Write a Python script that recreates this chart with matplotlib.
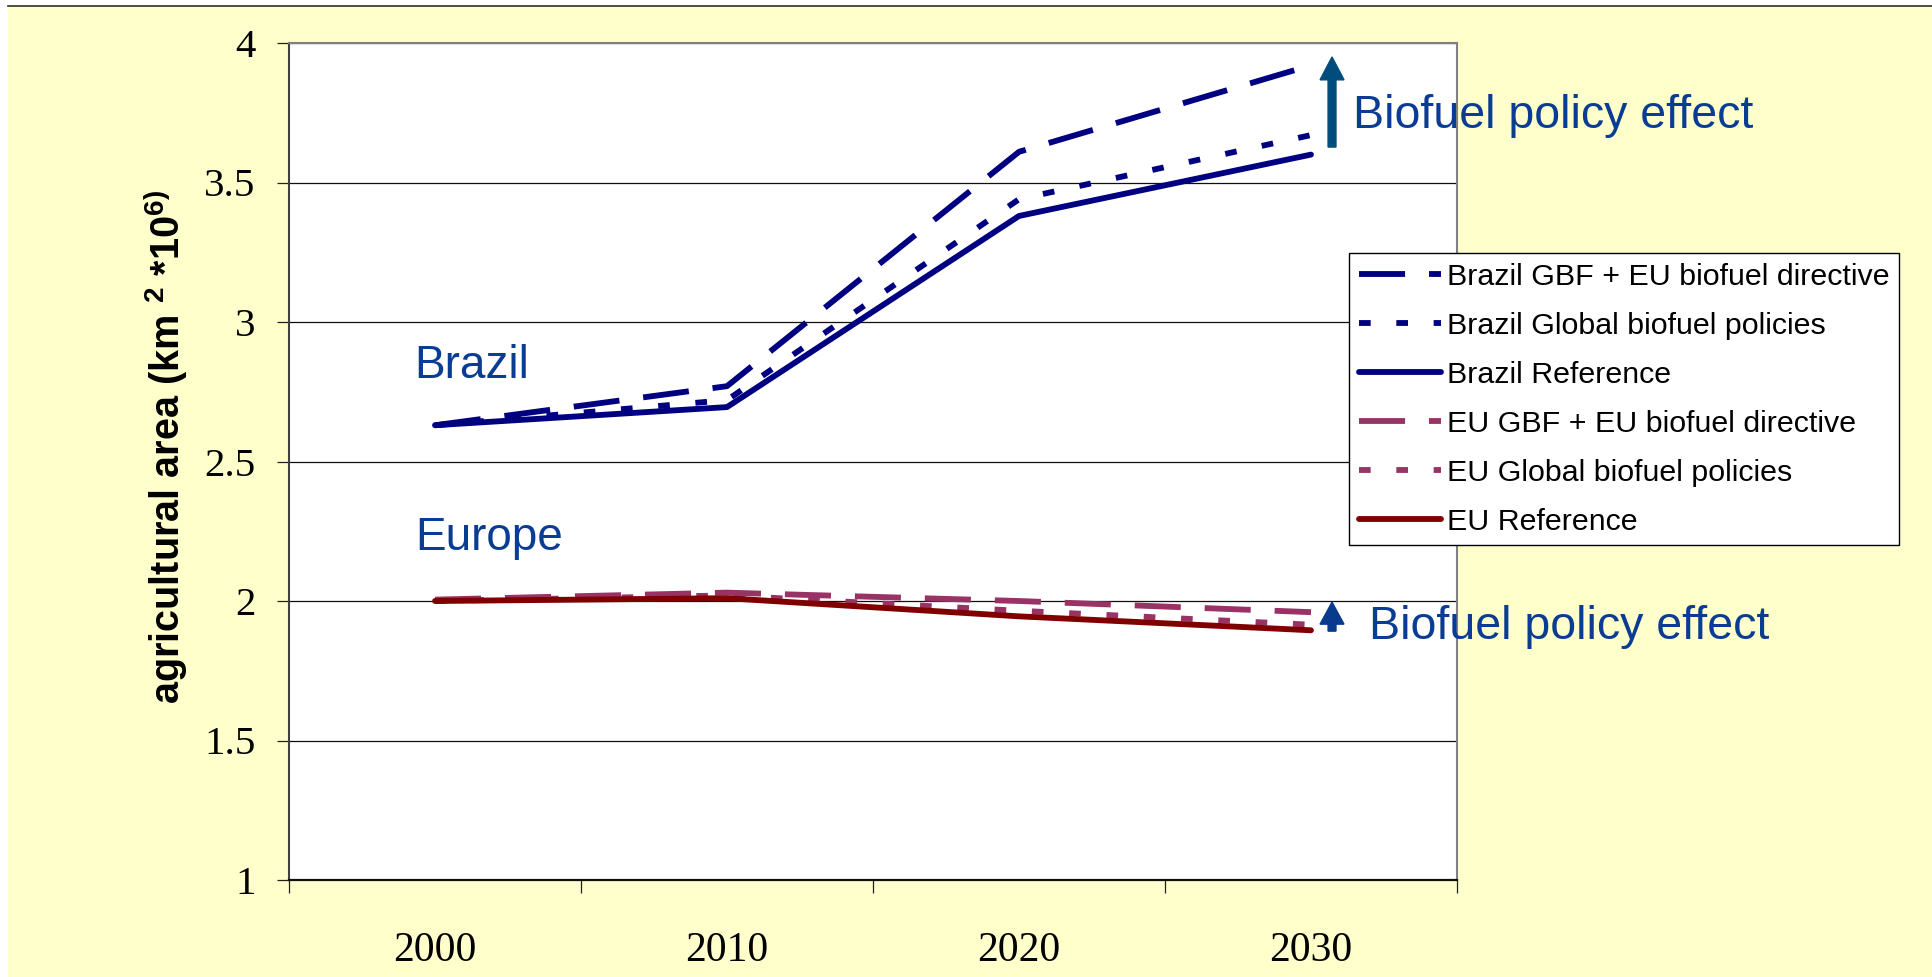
import matplotlib
matplotlib.use("Agg")
import matplotlib.pyplot as plt
from matplotlib.patches import Rectangle, FancyArrow
from matplotlib.lines import Line2D

# ---- data -------------------------------------------------------------
years = ["2000", "2010", "2020", "2030"]

brazil_gbf = [2.63, 2.77, 3.61, 3.92]
brazil_global = [2.63, 2.72, 3.44, 3.67]
brazil_ref = [2.63, 2.695, 3.38, 3.60]

eu_gbf = [2.005, 2.03, 2.00, 1.96]
eu_global = [2.00, 2.02, 1.965, 1.915]
eu_ref = [2.00, 2.01, 1.945, 1.895]

series_labels = [
    "Brazil GBF + EU biofuel directive",
    "Brazil Global biofuel policies",
    "Brazil Reference",
    "EU GBF + EU biofuel directive",
    "EU Global biofuel policies",
    "EU Reference",
]

y_ticks = [1, 1.5, 2, 2.5, 3, 3.5, 4]
y_tick_labels = ["1", "1.5", "2", "2.5", "3", "3.5", "4"]

# ---- styling ----------------------------------------------------------
plt.rcParams["font.family"] = ["Liberation Sans", "DejaVu Sans"]
plt.rcParams["mathtext.fontset"] = "custom"
plt.rcParams["mathtext.rm"] = "Liberation Sans:bold"
plt.rcParams["mathtext.default"] = "rm"

NAVY = "#000080"
PLUM = "#993366"
MAROON = "#800000"
LABEL_BLUE = "#0B3C93"
W, H = 1932, 977

fig = plt.figure(figsize=(W / 100, H / 100), dpi=100, facecolor="white")

# slide-style yellow panel with a rule along its top
fig.patches.append(Rectangle((8 / W, 0), 1 - 8 / W, 1 - 6 / H,
                             transform=fig.transFigure, facecolor="#FFFFCC",
                             edgecolor="none", zorder=-10))
fig.add_artist(Line2D([8 / W, 1], [1 - 6 / H, 1 - 6 / H],
                      transform=fig.transFigure, color="#303030", lw=1.2,
                      zorder=-5))

left, right, top, bottom = 289, 1457, 43, 880
ax = fig.add_axes([left / W, 1 - bottom / H, (right - left) / W, (bottom - top) / H])
ax.set_zorder(1)
ax.set_facecolor("white")

x = list(range(len(years)))
lw = 4.2
dash_long = (0, (7.9, 4.1))
dash_short = (0, (2.0, 4.4))

styles = [
    (brazil_gbf, NAVY, dash_long),
    (brazil_global, NAVY, dash_short),
    (brazil_ref, NAVY, "-"),
    (eu_gbf, PLUM, dash_long),
    (eu_global, PLUM, dash_short),
    (eu_ref, MAROON, "-"),
]
for (vals, col, ls), lab in zip(styles, series_labels):
    ax.plot(x, vals, color=col, lw=lw, linestyle=ls, label=lab,
            dash_capstyle="butt", solid_capstyle="round", zorder=3)

ax.set_xlim(-0.5, 3.5)
ax.set_ylim(1, 4)

# y axis
ax.set_yticks(y_ticks, labels=y_tick_labels)
ax.tick_params(axis="y", direction="out", length=9, width=0.9, pad=15,
               labelsize=29.5, color="#202020")
for t in ax.get_yticklabels():
    t.set_fontfamily("Liberation Serif")

# x axis: ticks between categories, labels centred on categories
ax.set_xticks([-0.5, 0.5, 1.5, 2.5, 3.5], labels=[])
ax.set_xticks(x, labels=years, minor=True)
ax.tick_params(axis="x", which="major", direction="out", length=9.5, width=0.9,
               color="#202020")
ax.tick_params(axis="x", which="minor", length=0, pad=37, labelsize=30)
for t in ax.get_xticklabels(minor=True):
    t.set_fontfamily("Liberation Serif")

ax.grid(axis="y", color="#101010", lw=0.9, zorder=1)
ax.set_axisbelow(True)

ax.spines["top"].set_color("#808080")
ax.spines["right"].set_color("#808080")
ax.spines["top"].set_linewidth(1.5)
ax.spines["right"].set_linewidth(1.5)
ax.spines["left"].set_color("#404040")
ax.spines["left"].set_linewidth(1.5)
ax.spines["bottom"].set_color("#101010")
ax.spines["bottom"].set_linewidth(1.6)

# axis title
fig.text(166 / W, 1 - 447 / H, r"agricultural area (km $^{2}$ *10$^{6)}$",
         rotation=90, ha="center", va="center", fontsize=28.5,
         fontweight="bold", color="black")

# region labels
ax.text(-0.072, 2.799, "Brazil", fontsize=33, color=LABEL_BLUE, va="baseline")
ax.text(-0.069, 2.183, "Europe", fontsize=33, color=LABEL_BLUE, va="baseline")

# policy effect arrows and captions
ax.add_patch(FancyArrow(3.072, 3.627, 0, 3.95 - 3.627, width=0.027,
                        head_width=0.082, head_length=0.082,
                        length_includes_head=True, color="#004C7C",
                        clip_on=False, zorder=4))
ax.add_patch(FancyArrow(3.072, 1.892, 0, 1.996 - 1.892, width=0.027,
                        head_width=0.082, head_length=0.079,
                        length_includes_head=True, color="#0A3A8E",
                        clip_on=False, zorder=4))
ax.text(3.144, 3.695, "Biofuel policy effect", fontsize=33.5,
        color=LABEL_BLUE, va="baseline", zorder=5)
ax.text(3.198, 1.864, "Biofuel policy effect", fontsize=33.5,
        color=LABEL_BLUE, va="baseline", zorder=5)

leg = ax.legend(loc="upper left", bbox_to_anchor=(1349 / W, 1 - 253 / H),
                bbox_transform=fig.transFigure, borderaxespad=0,
                fontsize=21.9, handlelength=2.7, handletextpad=0.2,
                borderpad=0.32, labelspacing=0.69, fancybox=False,
                framealpha=1, edgecolor="black", facecolor="white")
leg.get_frame().set_linewidth(1.0)
leg.set_zorder(6)

fig.savefig("out.png", dpi=100, facecolor=fig.get_facecolor())
